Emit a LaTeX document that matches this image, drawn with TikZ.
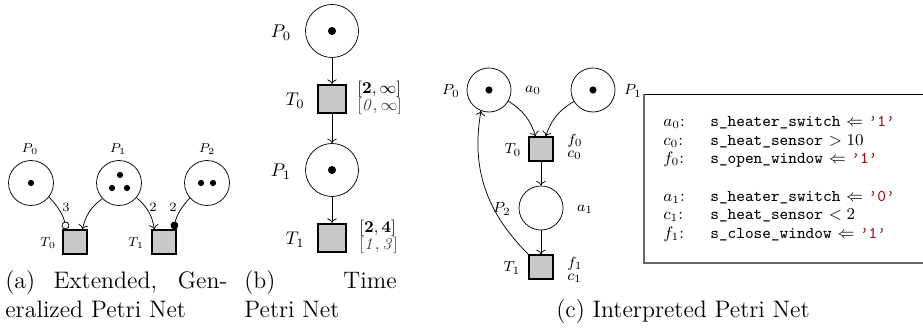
\documentclass[tikz,border=0pt]{standalone}
\usepackage{amsmath}
\usetikzlibrary{arrows.meta}
\definecolor{codered}{RGB}{160,10,10}
\definecolor{transfill}{RGB}{200,200,200}
\begin{document}
\begin{tikzpicture}[x=0.545pt,y=-0.545pt,
  place/.style={circle,draw,inner sep=0pt},
  trans/.style={rectangle,draw,line width=0.9pt,fill=transfill,inner sep=0pt},
  token/.style={circle,fill=black,inner sep=0pt},
  arc/.style={->},
  lblA/.style={font=\scriptsize,inner sep=0pt},
  lblB/.style={inner sep=0pt},
  lblC/.style={font=\footnotesize,inner sep=0pt},
  ivl/.style={font=\small,inner sep=0pt,anchor=west},
  captxt/.style={font=\fontsize{13}{15.6}\selectfont,inner sep=0pt,anchor=base west},
  boxtxt/.style={font=\small,inner sep=0pt,anchor=base west}
]
\useasboundingbox (0,0) rectangle (923,329);

% ---------------- (a) ----------------
\node[place,minimum size=24.5pt] (aP0) at (31,183) {};
\node[place,minimum size=24.5pt] (aP1) at (119,183) {};
\node[place,minimum size=24.5pt] (aP2) at (207,183) {};
\node[token,minimum size=3.4pt] (aP0t) at (31,183) {};
\node[token,minimum size=3.4pt] (aP1ta) at (120,175) {};
\node[token,minimum size=3.4pt] (aP1tb) at (112,188) {};
\node[token,minimum size=3.4pt] (aP1tc) at (127,188) {};
\node[token,minimum size=3.4pt] (aP2ta) at (201,183) {};
\node[token,minimum size=3.4pt] (aP2tb) at (213,183) {};
\node[lblA] (aP0l) at (30,149) {$P_0$};
\node[lblA] (aP1l) at (118,149) {$P_1$};
\node[lblA] (aP2l) at (207,149) {$P_2$};
\node[trans,minimum size=13pt] (aT0) at (75,242) {};
\node[trans,minimum size=13pt] (aT1) at (164,242) {};
\node[lblA] (aT0l) at (48,243) {$T_0$};
\node[lblA] (aT1l) at (136,243) {$T_1$};
\draw[-{Circle[open,length=4.2pt]}] (aP0.-38) to[bend left=15] (aT0.124);
\draw[arc] (aP1.-137) to[bend right=20] (aT0.60);
\draw[arc] (aP1.-40) to[bend left=20] (aT1.127);
\draw[-{Circle[length=4.2pt]}] (aP2.-139) to[bend right=15] (aT1.53);
\node[lblA] (aw0) at (66,207) {3};
\node[lblA] (aw1) at (153,207) {2};
\node[lblA] (aw2) at (173,207) {2};
\node[captxt] (capa1) at (5,289) {\makebox[121pt][s]{(a) Extended, Gen-}};
\node[captxt] (capa2) at (5,318) {eralized Petri Net};

% ---------------- (b) ----------------
\node[place,minimum size=28.9pt] (bP0) at (332,31) {};
\node[token,minimum size=4.4pt] (bP0t) at (332,31) {};
\node[trans,minimum size=15.5pt] (bT0) at (332,99) {};
\node[place,minimum size=28.9pt] (bP1) at (332,170) {};
\node[token,minimum size=4.4pt] (bP1t) at (332,170) {};
\node[trans,minimum size=15.5pt] (bT1) at (332,238) {};
\node[lblB] (bP0l) at (281,33) {$P_0$};
\node[lblB] (bT0l) at (295,101) {$T_0$};
\node[lblB] (bP1l) at (281,172) {$P_1$};
\node[lblB] (bT1l) at (295,240) {$T_1$};
\draw[arc] (bP0) -- (bT0);
\draw[arc] (bT0) -- (bP1);
\draw[arc] (bP1) -- (bT1);
\node[ivl] (bI0a) at (357,89) {$[\mathbf{2},\infty]$};
\node[ivl,text=black!75] (bI0b) at (357,106) {$[\mathit{0},\infty]$};
\node[ivl] (bI1a) at (359,228) {$[\mathbf{2},\mathbf{4}]$};
\node[ivl,text=black!75] (bI1b) at (359,245) {$[\mathit{1},\mathit{3}]$};
\node[captxt] (capb1) at (244,289) {\makebox[83pt][s]{(b) Time}};
\node[captxt] (capb2) at (244,318) {Petri Net};

% ---------------- (c) ----------------
\node[place,minimum size=24pt] (cP0) at (489,90) {};
\node[token,minimum size=3.9pt] (cP0t) at (489,90) {};
\node[place,minimum size=24pt] (cP1) at (593,90) {};
\node[token,minimum size=3.9pt] (cP1t) at (593,90) {};
\node[trans,minimum size=13pt] (cT0) at (541,149) {};
\node[place,minimum size=24pt] (cP2) at (541,208) {};
\node[trans,minimum size=13pt] (cT1) at (541,267) {};
\node[lblC] (cP0l) at (451,91) {$P_0$};
\node[lblC] (ca0) at (533,90) {$a_0$};
\node[lblC] (cP1l) at (633,91) {$P_1$};
\node[lblC] (cT0l) at (513,150) {$T_0$};
\node[lblC,anchor=west] (cf0) at (567,141) {$f_0$};
\node[lblC,anchor=west] (cc0) at (567,155) {$c_0$};
\node[lblC] (cP2l) at (502,209) {$P_2$};
\node[lblC] (ca1) at (585,209) {$a_1$};
\node[lblC] (cT1l) at (512,268) {$T_1$};
\node[lblC,anchor=west] (cf1) at (567,264) {$f_1$};
\node[lblC,anchor=west] (cc1) at (567,278) {$c_1$};
\draw[arc] (cP0.-30) to[bend left=20] (cT0.113);
\draw[arc] (cP1.-149) to[bend right=20] (cT0.70);
\draw[arc] (cT0) -- (cP2);
\draw[arc] (cP2) -- (cT1);
\draw[arc] (cT1.north west) to[out=135,in=-100] (cP0.249);
\node[captxt] (capc) at (556,318) {(c) Interpreted Petri Net};

% ---------------- box ----------------
\draw (644,94) -- (935,94);
\draw[black!60,line width=0.9pt] (935,263) -- (644,263) -- (644,94);
\node[boxtxt] (l1) at (663,127) {$a_0$:};
\node[boxtxt] (l2) at (663,146) {$c_0$:};
\node[boxtxt] (l3) at (663,164) {$f_0$:};
\node[boxtxt] (l4) at (663,202) {$a_1$:};
\node[boxtxt] (l5) at (663,220) {$c_1$:};
\node[boxtxt] (l6) at (663,239) {$f_1$:};
\node[boxtxt] (r1) at (710,127) {\texttt{s\_heater\_switch} $\Leftarrow$ \textcolor{codered}{\texttt{’1’}}};
\node[boxtxt] (r2) at (710,146) {\texttt{s\_heat\_sensor} $> 10$};
\node[boxtxt] (r3) at (710,164) {\texttt{s\_open\_window} $\Leftarrow$ \textcolor{codered}{\texttt{’1’}}};
\node[boxtxt] (r4) at (710,202) {\texttt{s\_heater\_switch} $\Leftarrow$ \textcolor{codered}{\texttt{’0’}}};
\node[boxtxt] (r5) at (710,220) {\texttt{s\_heat\_sensor} $< 2$};
\node[boxtxt] (r6) at (710,239) {\texttt{s\_close\_window} $\Leftarrow$ \textcolor{codered}{\texttt{’1’}}};
\end{tikzpicture}
\end{document}
